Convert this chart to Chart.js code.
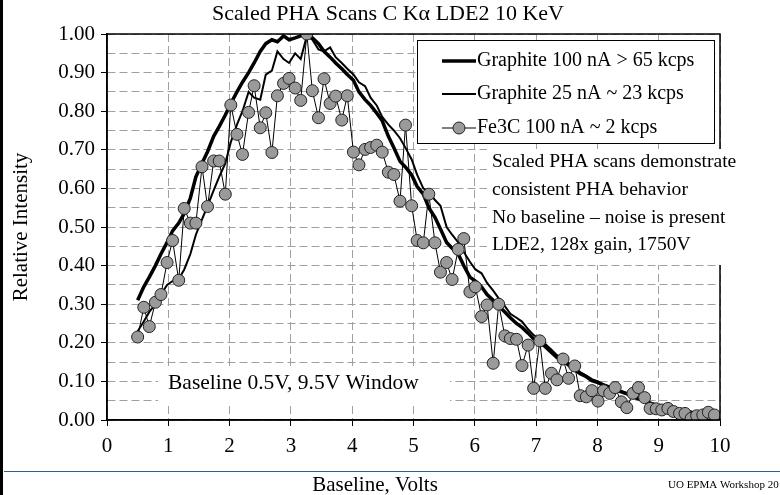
<!DOCTYPE html>
<html>
<head>
<meta charset="utf-8">
<title>Scaled PHA Scans C Kα LDE2 10 KeV</title>
<script src="https://cdn.jsdelivr.net/npm/chart.js@4.4.1/dist/chart.umd.min.js"></script>
<style>
  html, body { margin: 0; padding: 0; background: #fff; }
  canvas { display: block; }
</style>
</head>
<body>
<canvas id="pha" width="780" height="495"></canvas>
<script>
// Baseline voltage of each scan step
const volts = [
  0.50, 0.60, 0.69, 0.79, 0.88, 0.98, 1.07, 1.17, 1.26, 1.36,
  1.45, 1.55, 1.64, 1.74, 1.83, 1.93, 2.02, 2.12, 2.21, 2.31,
  2.40, 2.50, 2.59, 2.69, 2.78, 2.88, 2.97, 3.07, 3.16, 3.26,
  3.35, 3.45, 3.54, 3.64, 3.73, 3.83, 3.92, 4.02, 4.11, 4.21,
  4.30, 4.40, 4.49, 4.59, 4.68, 4.78, 4.87, 4.97, 5.06, 5.16,
  5.25, 5.35, 5.44, 5.54, 5.63, 5.73, 5.82, 5.92, 6.01, 6.11,
  6.20, 6.30, 6.39, 6.49, 6.58, 6.68, 6.77, 6.87, 6.96, 7.06,
  7.15, 7.25, 7.34, 7.44, 7.53, 7.63, 7.72, 7.82, 7.91, 8.01,
  8.10, 8.20, 8.29, 8.39, 8.48, 8.58, 8.67, 8.77, 8.86, 8.96,
  9.05, 9.15, 9.24, 9.34, 9.43, 9.53, 9.62, 9.72, 9.81, 9.91
];

// Scaled intensities
const graphite100 = [
  0.310, 0.345, 0.370, 0.400, 0.430, 0.460, 0.490, 0.510, 0.535, 0.575,
  0.630, 0.665, 0.695, 0.735, 0.760, 0.790, 0.820, 0.850, 0.875, 0.900,
  0.925, 0.955, 0.975, 0.985, 0.980, 0.995, 0.985, 0.990, 0.995, 1.000,
  0.990, 0.975, 0.955, 0.940, 0.925, 0.910, 0.895, 0.880, 0.850, 0.830,
  0.815, 0.795, 0.775, 0.735, 0.705, 0.670, 0.655, 0.635, 0.605, 0.585,
  0.550, 0.525, 0.495, 0.460, 0.445, 0.430, 0.400, 0.370, 0.360, 0.345,
  0.325, 0.310, 0.295, 0.280, 0.265, 0.250, 0.240, 0.225, 0.210, 0.200,
  0.190, 0.175, 0.162, 0.155, 0.142, 0.130, 0.120, 0.112, 0.102, 0.097,
  0.090, 0.084, 0.078, 0.073, 0.068, 0.060, 0.055, 0.048, 0.043, 0.038,
  0.035, 0.031, 0.028, 0.025, 0.022, 0.020, 0.016, 0.015, 0.013, 0.012
];

const graphite25 = [
  0.230, 0.255, 0.280, 0.300, 0.325, 0.350, 0.360, 0.365, 0.390, 0.430,
  0.480, 0.520, 0.555, 0.595, 0.630, 0.665, 0.720, 0.765, 0.800, 0.850,
  0.835, 0.830, 0.895, 0.905, 0.955, 0.935, 0.925, 0.950, 0.935, 0.995,
  0.985, 0.960, 0.955, 0.965, 0.940, 0.925, 0.910, 0.895, 0.875, 0.865,
  0.835, 0.815, 0.785, 0.765, 0.750, 0.730, 0.705, 0.675, 0.635, 0.600,
  0.590, 0.570, 0.555, 0.500, 0.480, 0.460, 0.435, 0.410, 0.390, 0.380,
  0.355, 0.335, 0.315, 0.295, 0.275, 0.265, 0.255, 0.235, 0.220, 0.210,
  0.197, 0.182, 0.168, 0.160, 0.147, 0.135, 0.124, 0.115, 0.106, 0.100,
  0.093, 0.087, 0.080, 0.075, 0.070, 0.063, 0.058, 0.050, 0.046, 0.040,
  0.037, 0.033, 0.030, 0.027, 0.024, 0.021, 0.018, 0.016, 0.014, 0.013
];

const fe3c = [
  0.215, 0.292, 0.242, 0.305, 0.325, 0.408, 0.465, 0.362, 0.548, 0.510,
  0.510, 0.656, 0.553, 0.671, 0.671, 0.585, 0.816, 0.740, 0.688, 0.797,
  0.866, 0.757, 0.796, 0.693, 0.840, 0.872, 0.885, 0.860, 0.828, 1.000,
  0.853, 0.783, 0.884, 0.820, 0.839, 0.777, 0.840, 0.694, 0.661, 0.701,
  0.706, 0.712, 0.694, 0.642, 0.636, 0.567, 0.764, 0.555, 0.465, 0.459,
  0.585, 0.459, 0.383, 0.408, 0.364, 0.442, 0.470, 0.332, 0.345, 0.268,
  0.298, 0.147, 0.300, 0.218, 0.211, 0.209, 0.141, 0.194, 0.082, 0.205,
  0.082, 0.121, 0.104, 0.158, 0.108, 0.140, 0.063, 0.060, 0.076, 0.049,
  0.076, 0.069, 0.084, 0.047, 0.032, 0.069, 0.084, 0.058, 0.030, 0.029,
  0.026, 0.030, 0.022, 0.017, 0.017, 0.004, 0.011, 0.013, 0.020, 0.013
];

const seriesNames = [
  "Graphite 100 nA > 65 kcps",
  "Graphite 25 nA ~ 23 kcps",
  "Fe3C 100 nA ~ 2 kcps"
];

const chartTitle = "Scaled PHA Scans C K\u03b1 LDE2 10 KeV";
const xTitle = "Baseline, Volts";
const yTitle = "Relative Intensity";
const noteLines = [
  "Scaled PHA scans demonstrate",
  "consistent PHA behavior",
  "No baseline \u2013 noise is present",
  "LDE2, 128x gain, 1750V"
];
const windowNote = "Baseline 0.5V, 9.5V Window";
const footer = "UO EPMA Workshop 20";

const SERIF = "'Liberation Serif', 'Times New Roman', serif";
const toPoints = (arr) => volts.map((v, i) => ({ x: v, y: arr[i] }));

// Frame, titles, legend and text boxes drawn on top of the plot
const decorations = {
  id: "decorations",
  afterDraw(chart) {
    const { ctx, chartArea: a } = chart;
    ctx.save();

    // solid box round the plot area
    ctx.strokeStyle = "#000";
    ctx.lineWidth = 1.5;
    ctx.strokeRect(a.left, a.top, a.right - a.left, a.bottom - a.top);

    // left edge of the slide
    ctx.fillStyle = "#000";
    ctx.fillRect(0, 0, 3, 495);

    ctx.fillStyle = "#000";
    ctx.textBaseline = "middle";

    // chart title
    ctx.font = "22px " + SERIF;
    ctx.textAlign = "center";
    ctx.fillText(chartTitle, 388, 14);

    // y title
    ctx.save();
    ctx.translate(21, (a.top + a.bottom) / 2);
    ctx.rotate(-Math.PI / 2);
    ctx.font = "21px " + SERIF;
    ctx.fillText(yTitle, 0, 0);
    ctx.restore();

    // rule and x title under the axis
    ctx.strokeStyle = "#2f5f8f";
    ctx.lineWidth = 1;
    ctx.beginPath();
    ctx.moveTo(4, 471.5);
    ctx.lineTo(780, 471.5);
    ctx.stroke();
    ctx.font = "21px " + SERIF;
    ctx.fillText(xTitle, 375, 485);

    ctx.font = "11px " + SERIF;
    ctx.textAlign = "left";
    ctx.fillText(footer, 668, 485);

    // legend
    const lx = 417, ly = 40, lw = 297, lh = 103;
    ctx.fillStyle = "#fff";
    ctx.fillRect(lx, ly, lw, lh);
    ctx.strokeStyle = "#000";
    ctx.lineWidth = 1;
    ctx.strokeRect(lx + 0.5, ly + 0.5, lw, lh);
    const rows = [61, 94, 128];
    ctx.font = "20px " + SERIF;
    chart.data.datasets.forEach((ds, i) => {
      const y = rows[i];
      ctx.strokeStyle = ds.borderColor;
      ctx.lineWidth = ds.borderWidth;
      ctx.beginPath();
      ctx.moveTo(442, y);
      ctx.lineTo(476, y);
      ctx.stroke();
      if (ds.pointRadius > 0) {
        ctx.beginPath();
        ctx.arc(459, y, ds.pointRadius, 0, Math.PI * 2);
        ctx.fillStyle = ds.pointBackgroundColor;
        ctx.fill();
        ctx.lineWidth = ds.pointBorderWidth;
        ctx.strokeStyle = ds.pointBorderColor;
        ctx.stroke();
      }
      ctx.fillStyle = "#000";
      ctx.fillText(seriesNames[i], 477, y);
    });

    // notes box
    ctx.fillStyle = "#fff";
    ctx.fillRect(487, 149, 252, 116);
    ctx.fillStyle = "#000";
    ctx.font = "19.6px " + SERIF;
    noteLines.forEach((t, i) => ctx.fillText(t, 492, 162 + i * 27.7));

    // window note
    ctx.fillStyle = "#fff";
    ctx.fillRect(158, 368, 292, 36);
    ctx.fillStyle = "#000";
    ctx.font = "21.5px " + SERIF;
    ctx.fillText(windowNote, 168, 383);

    ctx.restore();
  }
};

new Chart(document.getElementById("pha"), {
  type: "line",
  plugins: [decorations],
  data: {
    datasets: [
      {
        label: seriesNames[0],
        data: toPoints(graphite100),
        borderColor: "#000",
        borderWidth: 3.5,
        pointRadius: 0,
        order: 1
      },
      {
        label: seriesNames[1],
        data: toPoints(graphite25),
        borderColor: "#000",
        borderWidth: 2,
        pointRadius: 0,
        order: 2
      },
      {
        label: seriesNames[2],
        data: toPoints(fe3c),
        borderColor: "#000",
        borderWidth: 1,
        pointRadius: 6,
        pointBackgroundColor: "#9a9a9a",
        pointBorderColor: "#222",
        pointBorderWidth: 1,
        order: 0
      }
    ]
  },
  options: {
    responsive: false,
    animation: false,
    layout: { padding: { top: 34, right: 60, left: 0, bottom: 0 } },
    plugins: {
      legend: { display: false },
      tooltip: { enabled: false }
    },
    scales: {
      x: {
        type: "linear",
        min: 0,
        max: 10,
        afterFit: (s) => { s.height = 75; },
        ticks: {
          stepSize: 1,
          color: "#000",
          padding: 8,
          maxRotation: 0,
          font: { family: SERIF, size: 21 }
        },
        grid: { color: "#a0a0a0", tickColor: "#000", tickLength: 6 },
        border: { color: "#000", width: 1.5, dash: [8, 4] }
      },
      y: {
        min: 0,
        max: 1,
        afterFit: (s) => { s.width = 107; },
        ticks: {
          stepSize: 0.05,
          autoSkip: false,
          color: "#000",
          padding: 6,
          font: { family: SERIF, size: 21 },
          callback: (v, i) => (i % 2 ? "" : v.toFixed(2))
        },
        grid: {
          color: "#a0a0a0",
          tickLength: 6,
          tickColor: (c) => (c.index % 2 ? "rgba(0,0,0,0)" : "#000")
        },
        border: { color: "#000", width: 1.5, dash: [8, 4] }
      }
    }
  }
});
</script>
</body>
</html>
